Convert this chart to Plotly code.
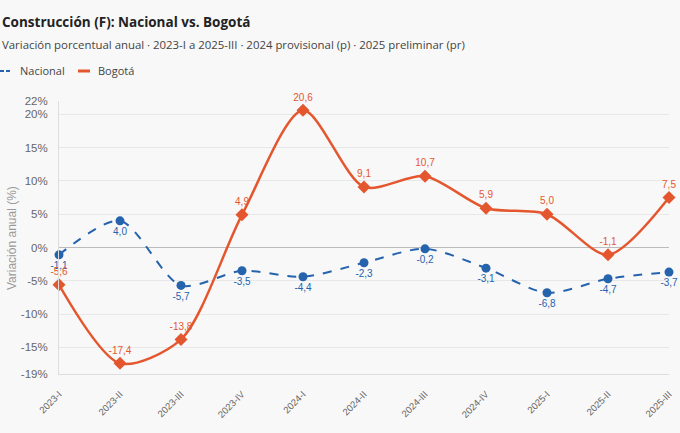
import plotly.graph_objects as go

periodos = ['2023-I', '2023-II', '2023-III', '2023-IV', '2024-I', '2024-II',
            '2024-III', '2024-IV', '2025-I', '2025-II', '2025-III']
nacional = [-1.1, 4.0, -5.7, -3.5, -4.4, -2.3, -0.2, -3.1, -6.8, -4.7, -3.7]
bogota = [-5.6, -17.4, -13.8, 4.9, 20.6, 9.1, 10.7, 5.9, 5.0, -1.1, 7.5]
y_ticks = [-19, -15, -10, -5, 0, 5, 10, 15, 20, 22]

AZUL = '#2563ad'
NARANJA = '#e4572e'
GRIS = '#666666'
TITULO = 'Open Sans, DejaVu Sans, sans-serif'
ARIAL = 'Liberation Sans, Arial, sans-serif'

L, R, T, B = 59, 11, 101, 59
ANCHO = 680 - L - R
ALTO = 433 - T - B

def px(x):
    return (x - L) / ANCHO

def py(y):
    return (433 - B - y) / ALTO

def fmt(v):
    return f'{v:.1f}'.replace('.', ',')

fig = go.Figure()

fig.add_trace(go.Scatter(
    x=periodos, y=nacional, mode='lines+markers+text', name='Nacional',
    line=dict(color=AZUL, width=2, dash='dash', shape='spline', smoothing=0.8),
    marker=dict(color=AZUL, size=9, symbol='circle'),
    text=[fmt(v) for v in nacional], textposition='bottom center',
    textfont=dict(color=AZUL, size=10, family=ARIAL),
    cliponaxis=False))

fig.add_trace(go.Scatter(
    x=periodos, y=bogota, mode='lines+markers+text', name='Bogotá',
    line=dict(color=NARANJA, width=2.5, shape='spline', smoothing=0.8),
    marker=dict(color=NARANJA, size=10, symbol='diamond'),
    text=[fmt(v) for v in bogota], textposition='top center',
    textfont=dict(color=NARANJA, size=10, family=ARIAL),
    cliponaxis=False))

# leyenda a mano: trazo corto + nombre
leyenda = [('Nacional', AZUL, 'dash', 2, 0, 18), ('Bogotá', NARANJA, 'solid', 3, 78, 96)]
shapes = []
notas = []
for nombre, color, dash, ancho, x0, xt in leyenda:
    shapes.append(dict(type='line', xref='paper', yref='paper',
                       x0=px(x0), x1=px(x0 + 12), y0=py(71), y1=py(71),
                       line=dict(color=color, width=ancho, dash='4px,2px' if dash == 'dash' else 'solid')))
    notas.append(dict(text=nombre, xref='paper', yref='paper', x=px(xt), y=py(71),
                      xanchor='left', yanchor='middle', showarrow=False,
                      font=dict(size=11, color='#444444', family=TITULO)))

fig.update_layout(
    width=680, height=433,
    margin=dict(l=L, r=R, t=T, b=B, autoexpand=False),
    paper_bgcolor='#f8f8f8', plot_bgcolor='#f8f8f8',
    font=dict(family=ARIAL, color=GRIS, size=11),
    showlegend=False,
    shapes=shapes,
    annotations=[
        dict(text='<b>Construcción (F): Nacional vs. Bogotá</b>', xref='paper', yref='paper',
             x=px(0), y=py(22), xanchor='left', yanchor='middle', showarrow=False,
             font=dict(size=13.5, color='#222222', family=TITULO)),
        dict(text='Variación porcentual anual · 2023-I a 2025-III · 2024 provisional (p) · 2025 preliminar (pr)',
             xref='paper', yref='paper', x=px(0), y=py(44),
             xanchor='left', yanchor='middle', showarrow=False,
             font=dict(size=11.4, color='#444444', family=TITULO)),
        dict(text='Variación anual (%)', xref='paper', yref='paper',
             x=px(12), y=py(238), xanchor='center', yanchor='middle',
             textangle=-90, showarrow=False, font=dict(size=12, color='#999999', family=ARIAL)),
    ] + notas,
)

fig.update_xaxes(
    type='category', range=[0, len(periodos) - 1], tickangle=-45, automargin=False,
    tickfont=dict(size=9.5, color=GRIS), showgrid=False, showline=True,
    linecolor='#dddddd', ticks='', zeroline=False, ticklabelstandoff=10)

fig.update_yaxes(
    range=[-19, 22], tickvals=y_ticks, ticktext=[f'{v}%' for v in y_ticks], automargin=False,
    tickfont=dict(size=11.5, color=GRIS), gridcolor='#e8e8e8', showline=True,
    linecolor='#dddddd', zeroline=True, zerolinecolor='#bbbbbb', zerolinewidth=1,
    ticklabelstandoff=8)

fig.write_html('out.html', config={'displayModeBar': False},
               post_script="document.body.style.margin='0';")
